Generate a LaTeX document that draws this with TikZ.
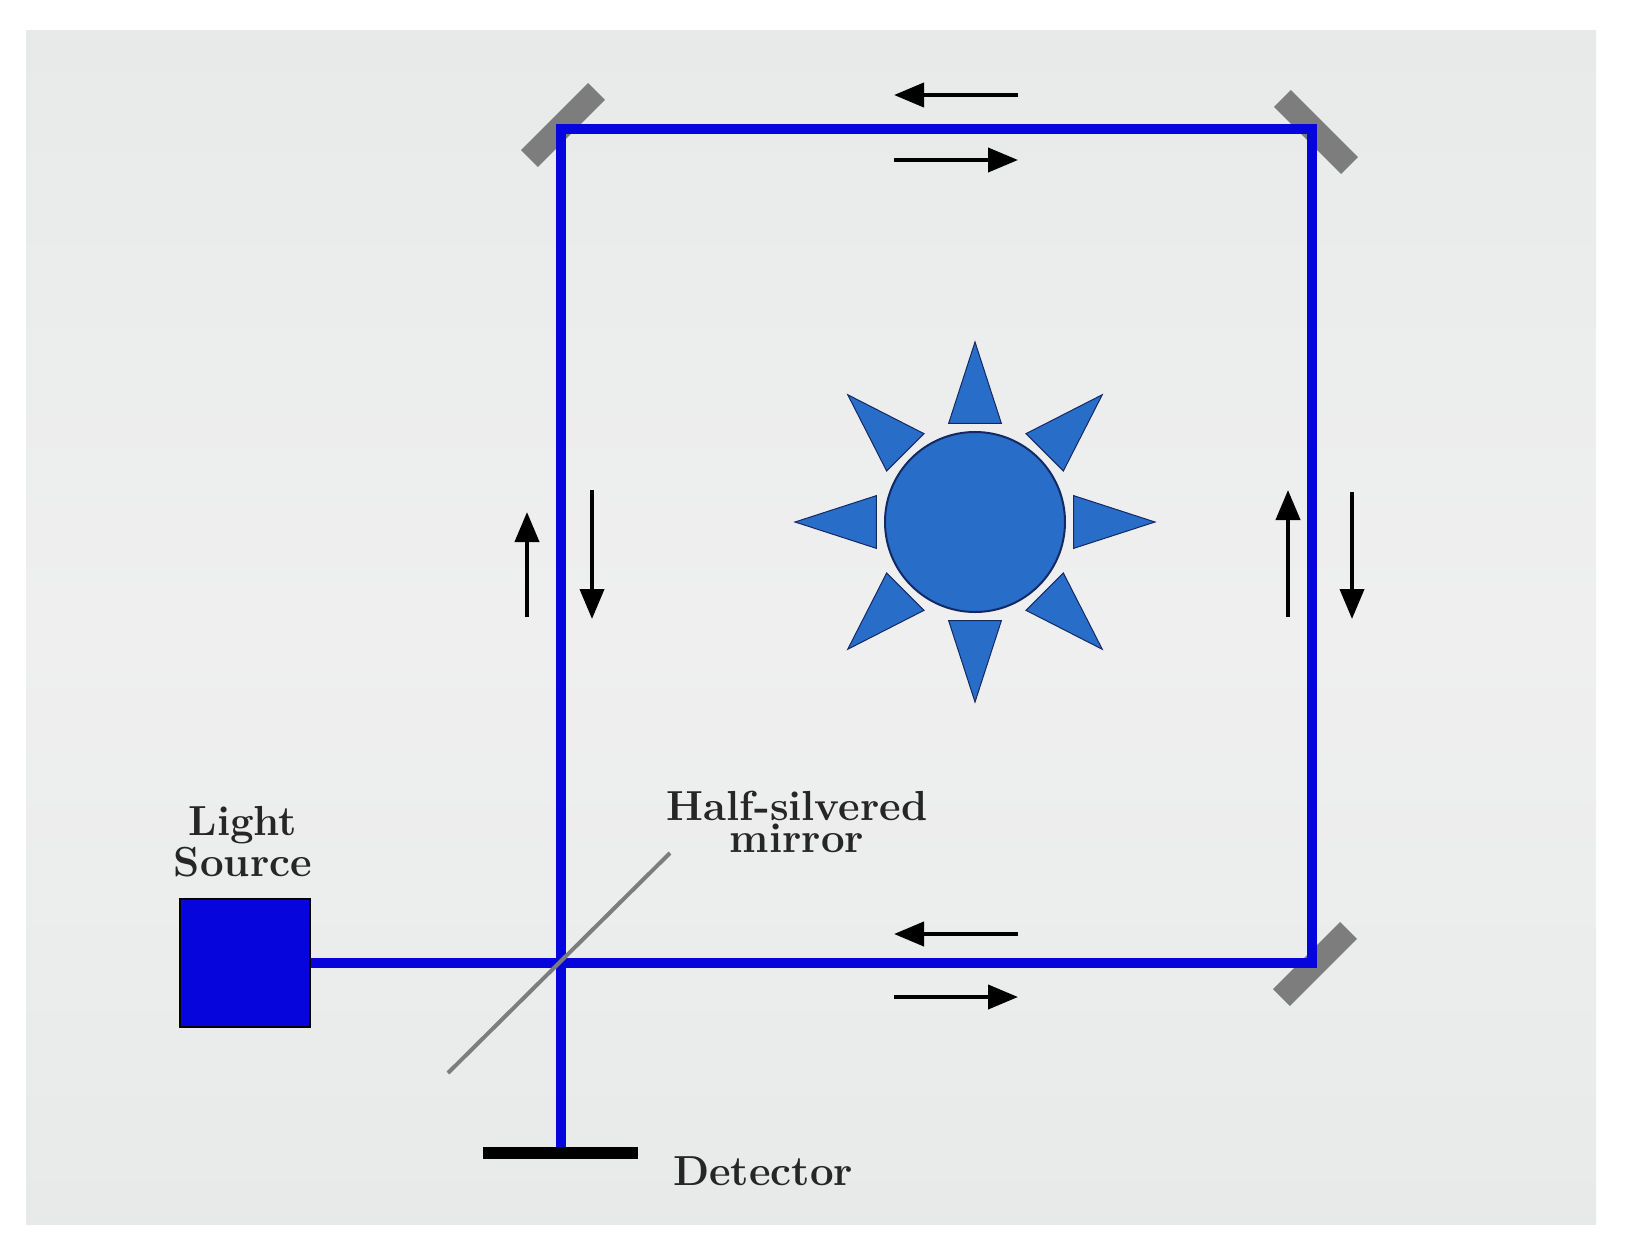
\documentclass[tikz,border=0pt]{standalone}
\usetikzlibrary{arrows.meta,calc}
\definecolor{beam}{RGB}{5,5,220}
\definecolor{sunc}{RGB}{40,110,200}
\definecolor{sunline}{RGB}{20,40,100}
\definecolor{bgtop}{RGB}{232,234,234}
\definecolor{bgmid}{RGB}{239,239,239}
\definecolor{mirr}{RGB}{125,125,125}
\tikzset{
  ray/.style={draw=beam,line width=10},
  dir/.style={draw=black,line width=4,-{Triangle[length=30,width=24]}},
  mir/.style={fill=mirr,minimum width=95,minimum height=24,inner sep=0,draw=none},
  lbl/.style={font=\fontsize{42}{34}\selectfont\bfseries,text=black!85,align=center,inner sep=0},
  ray tri/.style={fill=sunc,draw=sunline,line width=1}
}
\begin{document}
\begin{tikzpicture}[x=1pt,y=-1pt]
\useasboundingbox (0,0) rectangle (1650,1258);
\fill[white] (0,0) rectangle (1650,1258);
\shade[top color=bgtop,bottom color=bgtop,middle color=bgmid] (26,30) rectangle (1596,1224);
% corners
\coordinate (bs) at (561,963);
\coordinate (tl) at (561,129);
\coordinate (tr) at (1312,129);
\coordinate (br) at (1312,963);
\coordinate (dt) at (561,1153);
% mirrors
\node[mir,rotate=45] (m1) at (563,125) {};
\node[mir,rotate=-45] (m2) at (1316,132) {};
\node[mir,rotate=45] (m3) at (1315,964) {};
% light source
\node[draw=black,fill=beam,line width=2,minimum width=130,minimum height=128,inner sep=0] (src) at (245,963) {};
% beams
\draw[ray] (src.east) -- (br);
\draw[ray,line cap=rect] (br) -- (tr) -- (tl) -- (dt);
% detector
\node[fill=black,minimum width=155,minimum height=12,inner sep=0] (det) at (560,1153) {};
% half silvered mirror
\coordinate (h1) at (448,1073);
\coordinate (h2) at (670,853);
\draw[mirr,line width=4] (h1) -- (h2);
% labels
\node[lbl] (ls) at (243,842) {Light\\[2pt]Source};
\node[lbl] (hs) at (797,822) {Half-silvered\\[-2pt]mirror};
\node[lbl,anchor=west] (dl) at (673,1171) {Detector};
% direction arrows
\coordinate (a1) at (1018,95); \coordinate (a2) at (894,95);
\draw[dir] (a1) -- (a2);
\coordinate (a3) at (894,160); \coordinate (a4) at (1018,160);
\draw[dir] (a3) -- (a4);
\coordinate (b1) at (1018,934); \coordinate (b2) at (894,934);
\draw[dir] (b1) -- (b2);
\coordinate (b3) at (894,997); \coordinate (b4) at (1018,997);
\draw[dir] (b3) -- (b4);
\coordinate (c1) at (527,617); \coordinate (c2) at (527,512);
\draw[dir] (c1) -- (c2);
\coordinate (c3) at (592,490); \coordinate (c4) at (592,619);
\draw[dir] (c3) -- (c4);
\coordinate (d1) at (1288,617); \coordinate (d2) at (1288,490);
\draw[dir] (d1) -- (d2);
\coordinate (d3) at (1352,492); \coordinate (d4) at (1352,619);
\draw[dir] (d3) -- (d4);
% sun
\coordinate (sun) at (975,522);
\foreach \a in {0,45,...,315}{
  \fill[ray tri] ($(sun)+(\a:180)$) -- ($(sun)+(\a+15:102)$) -- ($(sun)+(\a-15:102)$) -- cycle;
}
\node[circle,fill=sunc,draw=sunline,line width=2,minimum size=180,inner sep=0] (sc) at (sun) {};
\end{tikzpicture}
\end{document}
